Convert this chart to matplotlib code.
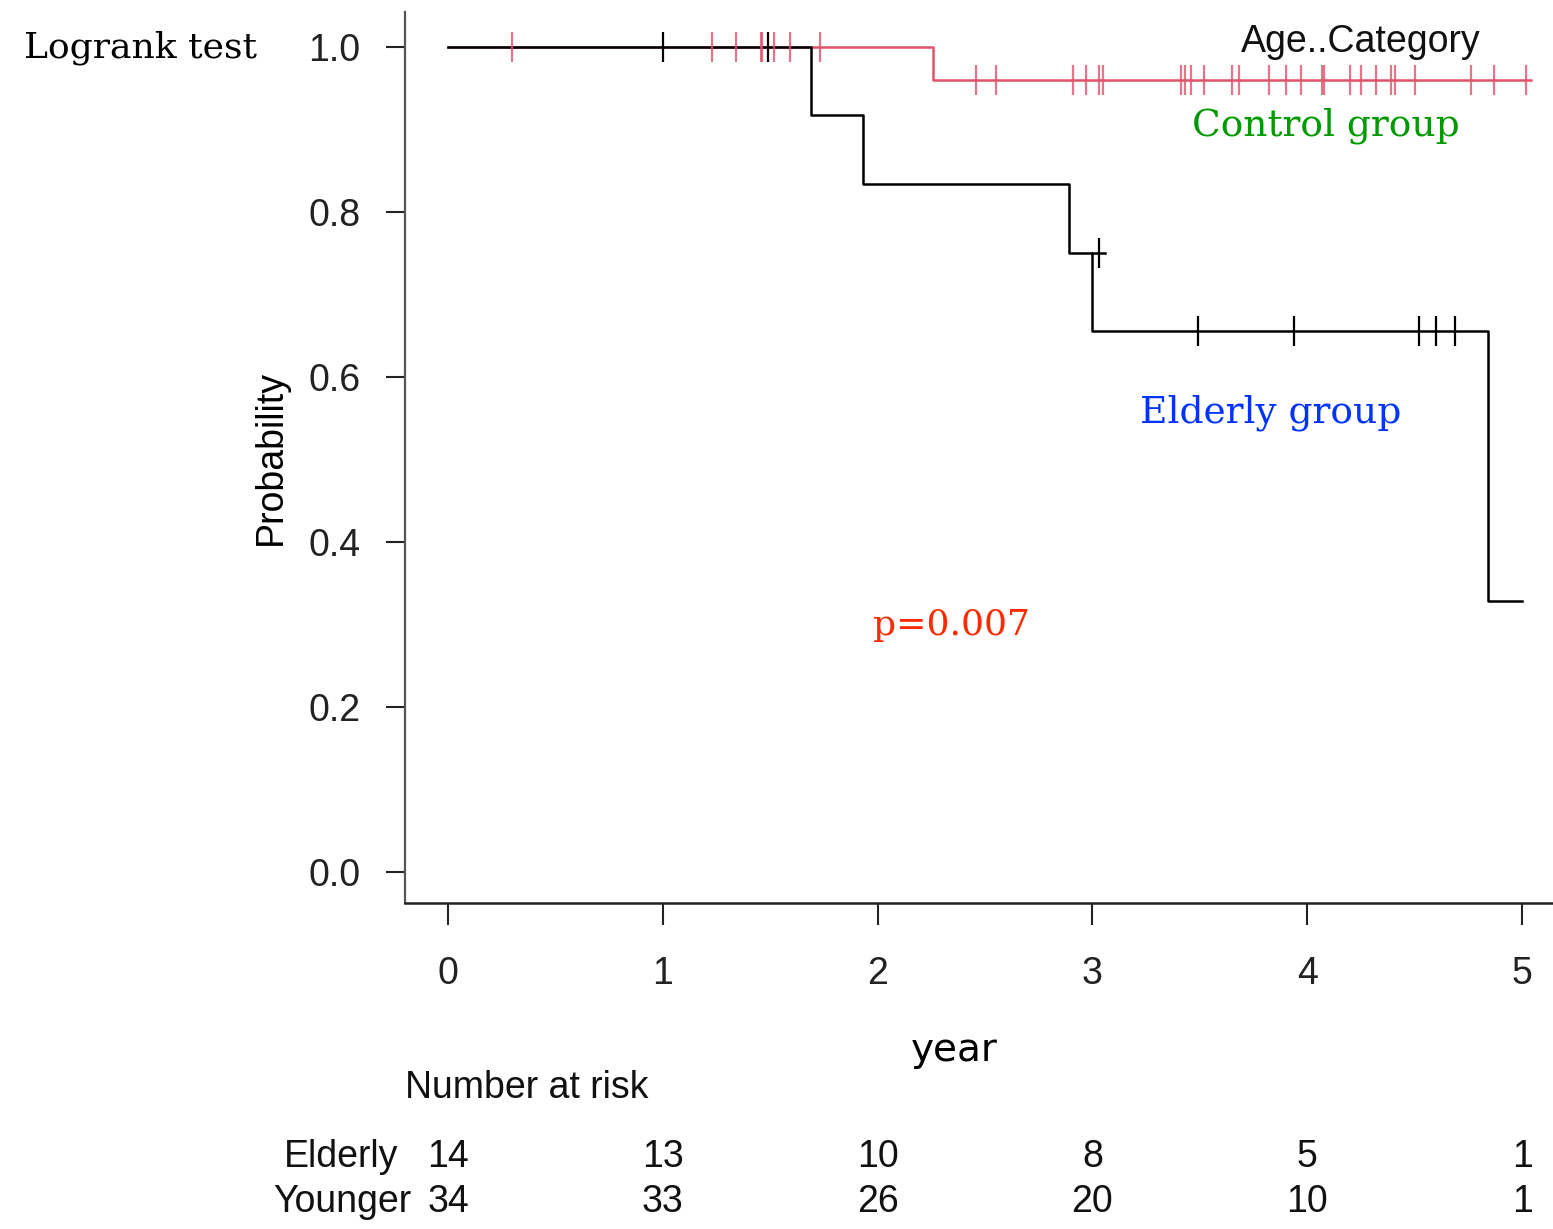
import matplotlib
matplotlib.use("Agg")
import matplotlib.pyplot as plt
import matplotlib.transforms as mtransforms

# ---- data ----
elderly_times = [0.0, 1.69, 1.93, 2.89, 3.0, 4.84, 5.0]
elderly_surv = [1.0, 0.917, 0.833, 0.75, 0.656, 0.328, 0.328]
elderly_cens_t = [1.0, 1.49, 3.03, 3.49, 3.94, 4.52, 4.60, 4.69]
elderly_cens_s = [1.0, 1.0, 0.75, 0.656, 0.656, 0.656, 0.656, 0.656]

younger_times = [0.0, 2.26, 5.04]
younger_surv = [1.0, 0.96, 0.96]
younger_cens_t = [0.30, 1.23, 1.34, 1.456, 1.46, 1.52, 1.59, 1.73,
                  2.46, 2.55, 2.91, 2.97, 3.03, 3.05, 3.41, 3.43, 3.46, 3.52,
                  3.65, 3.68, 3.82, 3.90, 3.97, 4.07, 4.08, 4.20, 4.25, 4.32,
                  4.39, 4.41, 4.50, 4.76, 4.87, 5.02]

x_ticks = [0, 1, 2, 3, 4, 5]
y_ticks = [0.0, 0.2, 0.4, 0.6, 0.8, 1.0]
y_tick_labels = ["0.0", "0.2", "0.4", "0.6", "0.8", "1.0"]
risk_groups = ["Elderly", "Younger"]
risk_elderly = [14, 13, 10, 8, 5, 1]
risk_younger = [34, 33, 26, 20, 10, 1]

RED = "#DF536B"
W, H = 1553, 1229
fig = plt.figure(figsize=(W / 100, H / 100), dpi=100)
ax = fig.add_axes([405 / W, 1 - 903 / H, 1 - 405 / W, (903 - 12) / H])
ax.set_xlim(-0.2, 5.144)
ax.set_ylim(-0.0376, 1.042)

ax.step(elderly_times, elderly_surv, where="post", color="black", lw=1.8, zorder=3)
ax.step(younger_times, younger_surv, where="post", color=RED, lw=1.8, zorder=2)

def younger_at(t):
    s = younger_surv[0]
    for tt, ss in zip(younger_times, younger_surv):
        if t >= tt:
            s = ss
    return s

ax.plot(elderly_cens_t, elderly_cens_s, linestyle="none", marker="|", ms=22,
        mew=1.6, color="black", zorder=4)
ax.plot(younger_cens_t, [younger_at(t) for t in younger_cens_t], linestyle="none",
        marker="|", ms=22, mew=1.6, color=RED, alpha=0.8, zorder=3)
# small horizontal cross at the censored point on the 0.75 step
ax.plot([3.0, 3.06], [0.75, 0.75], color="black", lw=1.8, zorder=3)

for s in ["top", "right"]:
    ax.spines[s].set_visible(False)
ax.spines["left"].set_color("#555555")
ax.spines["left"].set_linewidth(1.6)
ax.spines["bottom"].set_color("#222222")
ax.spines["bottom"].set_linewidth(1.8)

SANS = "Liberation Sans"
FS = 27

ax.set_xticks(x_ticks)
ax.set_xticklabels([str(v) for v in x_ticks])
ax.set_yticks(y_ticks)
ax.set_yticklabels(y_tick_labels)
ax.tick_params(axis="x", length=16, width=1.5, pad=22, labelsize=FS, colors="#222222")
ax.tick_params(axis="y", length=14, width=1.5, pad=18, labelsize=FS, colors="#222222")
for lab in ax.get_xticklabels() + ax.get_yticklabels():
    lab.set_fontfamily(SANS)

ax.set_ylabel("Probability", fontsize=FS, family=SANS, labelpad=14)

# legend title
fig.text(1361 / W, 1 - 42 / H, "Age..Category", ha="center", va="center",
         fontsize=FS, family=SANS, color="#111111")

# annotations
SERIF = "DejaVu Serif"
fig.text(140 / W, 1 - 48 / H, "Logrank test", ha="center", va="center",
         fontsize=26, family=SERIF, color="black")
fig.text(1326 / W, 1 - 126 / H, "Control group", ha="center", va="center",
         fontsize=27, family=SERIF, color="#009900")
fig.text(1271 / W, 1 - 413 / H, "Elderly group", ha="center", va="center",
         fontsize=27, family=SERIF, color="#0033FF")
fig.text(951 / W, 1 - 625 / H, "p=0.007", ha="center", va="center",
         fontsize=26, family=SERIF, color="#FF2A00")

fig.text(954 / W, 1 - 1050 / H, "year", ha="center", va="center",
         fontsize=28, family="DejaVu Sans", color="black")

# number at risk table
fig.text(405 / W, 1 - 1088 / H, "Number at risk", ha="left", va="center",
         fontsize=FS, family=SANS, color="#111111")
trans = mtransforms.blended_transform_factory(ax.transData, fig.transFigure)
rows = [(risk_elderly, 1157, 398), (risk_younger, 1202, 411)]
for (vals, ypx, lblx), name in zip(rows, risk_groups):
    fig.text(lblx / W, 1 - ypx / H, name, ha="right", va="center",
             fontsize=FS, family=SANS, color="#111111")
    for t, v in zip(x_ticks, vals):
        ax.text(t, 1 - ypx / H, str(v), transform=trans, ha="center", va="center",
                fontsize=FS, family=SANS, color="#111111", clip_on=False)

fig.savefig("out.png", dpi=100)
